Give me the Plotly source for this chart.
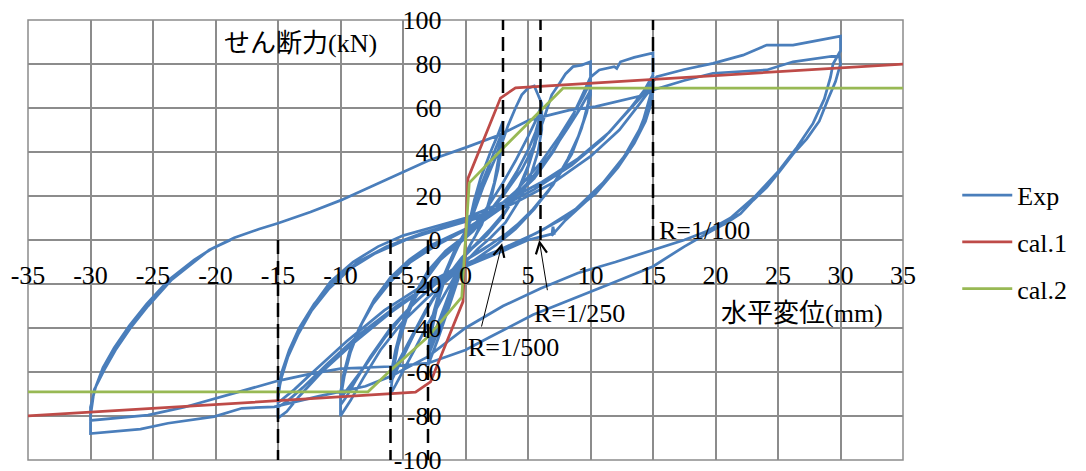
import plotly.graph_objects as go

FONT = "Liberation Serif, Noto Sans CJK JP, serif"

# ---------------- Exp (experimental hysteresis), segment by segment ----------------
seg01 = [(0, 0), (0.3, 8), (0.7, 18), (1.2, 28), (2, 40), (2.6, 48), (3, 54)]
seg02 = [(3, 54), (2.8, 42), (2.3, 26), (1.6, 12), (0.8, 2), (0, -6), (-0.6, -18), (-1.3, -30), (-2.2, -45), (-3, -57)]
seg03 = [(-3, -57), (-2.8, -44), (-2.2, -28), (-1.4, -13), (-0.6, -3), (0, 3), (0.6, 14), (1.4, 27), (2.3, 40), (3, 50)]
seg04 = [(3, 50), (2.7, 36), (2.1, 20), (1.3, 7), (0.4, -2), (-0.4, -12), (-1.2, -25), (-2.1, -40), (-3, -53)]
seg05 = [(-3, -53), (-2.7, -38), (-2, -22), (-1.2, -9), (-0.3, 0), (0.5, 10), (1.4, 24), (2.3, 36), (3, 47)]
seg06 = [(3, 47), (2.6, 32), (1.9, 16), (1, 4), (0.2, -4), (-0.7, -15), (-1.6, -29), (-2.4, -41), (-3, -50)]
seg07 = [(-3, -50), (-2.6, -34), (-1.8, -17), (-0.9, -5), (0, 4), (0.8, 16), (1.8, 30), (2.8, 42), (3.4, 52),
         (4, 60), (4.5, 66), (5, 69), (5.5, 70), (5.8, 66), (6.1, 62)]
seg08 = [(6.1, 62), (6.1, 50), (5.8, 40), (5.2, 29), (4.3, 18), (3.2, 8), (2, 1), (1, -4), (0, -10), (-1, -18),
         (-2, -28), (-3, -38), (-4, -49), (-5, -60), (-5.6, -66), (-6, -70)]
seg09 = [(-6, -70), (-5.8, -60), (-5.4, -48), (-4.7, -35), (-3.8, -23), (-2.6, -12), (-1.3, -4), (0, 2), (1, 9),
         (2, 17), (3, 26), (4, 36), (5, 47), (5.6, 54), (6, 60)]
seg10 = [(6, 60), (5.7, 48), (5.1, 35), (4.3, 24), (3.2, 13), (2, 5), (0.8, -2), (-0.3, -8), (-1.5, -17),
         (-2.7, -28), (-3.8, -39), (-4.9, -52), (-5.5, -59), (-6, -65)]
seg11 = [(-6, -65), (-5.7, -54), (-5.2, -42), (-4.4, -30), (-3.3, -19), (-2, -9), (-0.8, -3), (0.6, 4), (1.8, 12),
         (3, 21), (4.1, 31), (5.1, 42), (5.6, 49), (6, 57)]
seg12 = [(6, 57), (5.6, 44), (4.9, 31), (4, 20), (2.9, 10), (1.7, 2), (0.5, -4), (-0.7, -11), (-2, -21),
         (-3.2, -32), (-4.4, -45), (-5.3, -55), (-6, -62)]
seg13 = [(-6, -62), (-5.6, -50), (-5, -37), (-4.1, -25), (-3, -14), (-1.6, -5), (0, 2), (1.5, 10), (3, 20),
         (4.5, 32), (5.5, 43), (6.2, 54), (6.9, 66), (7.5, 71), (8, 75.5), (8.6, 78.8), (9.3, 79.5), (10, 81)]
seg14 = [(10, 81), (10, 70), (9.8, 62), (9.3, 51), (8.5, 39), (7.1, 26), (5.5, 14), (4, 5), (2.5, -2), (1, -8),
         (-1, -16), (-3, -26), (-5, -37), (-6.8, -50), (-8.2, -63), (-9.2, -73), (-10, -80)]
seg15 = [(-10, -80), (-10, -72), (-9.7, -62), (-9.2, -51), (-8.4, -39), (-7.3, -27), (-6, -17), (-4.5, -9),
         (-3, -3), (-1.5, 1), (0, 5), (2, 12), (4, 22), (6, 35), (7.5, 47), (8.6, 57), (9.4, 65), (10, 72)]
seg16 = [(10, 72), (10, 66), (9.7, 58), (9.1, 48), (8.2, 37), (7, 25), (5.4, 14), (3.8, 5), (2, -2), (0, -9),
         (-2, -18), (-4, -28), (-6, -40), (-7.6, -53), (-8.8, -64), (-9.5, -71), (-10, -75)]
seg17 = [(-10, -75), (-10, -69), (-9.6, -59), (-9.1, -49), (-8.3, -38), (-7.2, -27), (-5.9, -18), (-4.4, -9),
         (-2.8, -3), (-1, 2), (1, 7), (3, 15), (5, 26), (6.8, 39), (8.2, 51), (9.2, 60), (10, 68)]
seg18 = [(10, 68), (9.8, 62), (9.5, 55), (8.9, 45), (7.9, 33), (6.6, 22), (5, 11), (3.3, 3), (1.5, -4),
         (-0.5, -11), (-2.5, -20), (-4.5, -31), (-6.4, -44), (-8, -57), (-9.2, -66), (-10, -72)]
seg19 = [(-10, -72), (-9.8, -62), (-9.3, -51), (-8.5, -40), (-7.4, -29), (-6, -19), (-4.4, -10), (-2.5, -3),
         (-0.5, 3), (1.5, 9), (3.5, 17), (5.5, 28), (7, 40), (8.2, 52), (9.2, 64), (10, 74), (10.7, 77.3),
         (11.5, 78.2), (11.9, 78.8), (12.1, 78), (12.4, 81), (13.5, 83), (14.7, 84.8), (15, 85)]
seg20 = [(15, 85), (15, 76), (14.8, 66), (14.1, 52), (12.7, 38), (10.5, 22), (8, 9), (6.9, 2), (7, 6), (7.1, 3),
         (5, 0), (3, -5), (0, -12), (-3, -21), (-6, -33), (-9, -47), (-11.5, -60), (-13.3, -71), (-14.3, -78),
         (-15, -81)]
seg21 = [(-15, -81), (-15, -72), (-14.8, -64), (-14.2, -53), (-13.4, -42), (-12.2, -30), (-10.8, -19), (-9, -10),
         (-7, -3), (-5, 2), (-2.5, 6), (0, 10), (3, 17), (6, 26), (9, 37), (11.5, 49), (13.2, 60), (14.3, 68),
         (15, 75)]
seg22 = [(15, 75), (15, 69), (14.6, 60), (13.9, 50), (12.7, 38), (11, 26), (8.8, 14), (6.3, 5), (3.5, -3),
         (0.5, -10), (-2.5, -19), (-5.5, -30), (-8.5, -43), (-11, -56), (-13, -67), (-14.2, -73), (-15, -76)]
seg23 = [(-15, -76), (-15, -70), (-14.7, -62), (-14.2, -53), (-13.4, -43), (-12.3, -32), (-10.9, -22),
         (-9.2, -13), (-7.2, -6), (-4.8, 0), (-2, 5), (1, 10), (4, 17), (7, 26), (10, 38), (12.3, 50),
         (13.8, 61), (15, 70)]
seg24 = [(15, 70), (14.9, 63), (14.4, 54), (13.5, 44), (12.2, 33), (10.4, 21), (8.2, 11), (5.6, 3), (2.5, -5),
         (-0.5, -12), (-3.5, -21), (-6.5, -32), (-9.5, -46), (-12, -59), (-13.7, -68), (-15, -74)]
seg25 = [(-15, -74), (-15, -68), (-14.7, -60), (-14.1, -50), (-13.3, -40), (-12.1, -29), (-10.6, -19),
         (-8.6, -10), (-6.3, -3), (-3.5, 3), (-0.5, 8), (2.5, 14), (5.5, 23), (8.5, 34), (11, 46), (12.8, 57),
         (14.2, 66), (15.3, 74.2), (17.5, 77.5), (19.8, 80.3), (22.2, 84), (24.1, 88.6), (26.2, 88.6),
         (28, 90.5), (30, 92.7)]
seg26 = [(30, 92.7), (30, 86), (29.4, 80), (29.2, 74), (28.7, 64), (27.8, 53), (26.5, 42), (25, 31), (23.2, 20),
         (21.2, 10), (19.3, 4), (17.5, 0), (15, -4.5), (12, -10), (9, -15), (6, -22), (3, -30), (0, -40),
         (-3, -53), (-6, -62), (-8, -66.5), (-11.7, -71), (-15.3, -75.8), (-17.9, -76.5), (-20.1, -80.3),
         (-23.8, -83.3), (-26, -86), (-28, -87), (-30, -88)]
seg27 = [(-30, -88), (-30, -80), (-29.7, -68), (-28.9, -59), (-28, -50), (-26.8, -40), (-25.4, -30),
         (-23.5, -18), (-21.5, -9), (-20.5, -4.5), (-18.5, 1), (-16.5, 5), (-15, 7.6), (-12.4, 12.7), (-10, 18),
         (-6.5, 27), (-3, 36), (0, 42), (2.7, 47.7), (5.1, 54.5), (8.3, 59), (10.4, 60.6), (14.4, 66),
         (15, 68.2), (17.5, 72.5), (19.8, 75.8), (22, 76.5), (24.1, 77.3), (26.2, 81), (28, 82.5), (29.9, 84)]
seg28 = [(29.9, 84), (30, 80), (29.6, 72), (29, 64), (28.3, 54), (27.3, 46), (26.2, 39), (25.1, 31), (24.1, 24),
         (23, 18), (22, 12), (20.8, 7.5), (19.8, 4.5), (17.5, -3), (15, -12), (12, -19), (9, -25.8), (5.4, -34),
         (2, -44), (0, -50), (-3, -56), (-6, -57.5), (-10, -58.5), (-12.5, -61), (-15, -64), (-17.5, -68),
         (-20, -72), (-22.5, -76), (-25.4, -79.6), (-28, -81), (-30, -82)]
seg29 = [(-30, -82), (-30, -76), (-29.6, -67), (-29, -58), (-28.1, -49), (-26.9, -39), (-25.5, -29),
         (-23.7, -18), (-21.7, -9), (-20.3, -4), (-18.8, 0)]

exp_segments = [seg01, seg02, seg03, seg04, seg05, seg06, seg07, seg08, seg09, seg10,
                seg11, seg12, seg13, seg14, seg15, seg16, seg17, seg18, seg19, seg20,
                seg21, seg22, seg23, seg24, seg25, seg26, seg27, seg28, seg29]
exp_x = [p[0] for seg in exp_segments for p in seg]
exp_y = [p[1] for seg in exp_segments for p in seg]

# ---------------- calculated skeleton curves ----------------
cal1_x = [-35, -4, -2.8, -1.5, -0.2, 0.2, 1.5, 2.8, 4, 35]
cal1_y = [-80, -69.2, -64.5, -46, -28, 28, 46, 64.5, 69.2, 80]
cal2_x = [-35, -7.8, -6.2, -3, -0.3, 0.3, 3, 5.8, 7.8, 35]
cal2_y = [-69, -69, -60.3, -44, -26, 26, 41.7, 57.6, 69, 69]

# ---------------- drift-angle reference lines ----------------
drift_x = [3, 6, 15, -3, -6, -15]
drift_y_end = [100, 100, 100, -100, -100, -100]

# ---------------- ticks ----------------
x_tick_vals = [-35, -30, -25, -20, -15, -10, -5, 0, 5, 10, 15, 20, 25, 30, 35]
x_tick_text = ["-35", "-30", "-25", "-20", "-15", "-10", "-5", "0", "5", "10", "15", "20", "25", "30", "35"]
y_tick_vals = [-100, -80, -60, -40, -20, 0, 20, 40, 60, 80, 100]
y_tick_text = ["-100", "-80", "-60", "-40", "-20", "0", "20", "40", "60", "80", "100"]

# ---------------- labels ----------------
label_text = ["R=1/100", "R=1/250", "R=1/500"]
label_x = [15.3, 5.3, 0.05]
label_y = [4.5, -33.2, -49]
arrow_tip_x = [2.93, 5.9]
arrow_tip_y = [-1.5, 0]
arrow_tail_x = [1.25, 6.57]
arrow_tail_y = [-40, -23.5]
y_title, y_title_x, y_title_y = "せん断力(kN)", -13.2, 89.5
x_title, x_title_x, x_title_y = "水平変位(mm)", 26.95, -33.3

fig = go.Figure()
fig.add_trace(go.Scatter(x=exp_x, y=exp_y, mode="lines", name="Exp", legendgroup="g1",
                         line=dict(color="#4A7EBB", width=2.75)))
fig.add_trace(go.Scatter(x=cal1_x, y=cal1_y, mode="lines", name="cal.1", legendgroup="g2",
                         line=dict(color="#BE4B48", width=2.75)))
fig.add_trace(go.Scatter(x=cal2_x, y=cal2_y, mode="lines", name="cal.2", legendgroup="g3",
                         line=dict(color="#98B954", width=2.75)))

dx, dy = [], []
for xv, ye in zip(drift_x, drift_y_end):
    dx += [xv, xv, None]
    dy += [0, ye, None]
fig.add_trace(go.Scatter(x=dx, y=dy, mode="lines", showlegend=False, hoverinfo="skip",
                         line=dict(color="black", width=2.5, dash="14px,7px")))

annotations = []
for t, xv, yv in zip(label_text, label_x, label_y):
    annotations.append(dict(x=xv, y=yv, xref="x", yref="y", text=t, showarrow=False,
                            xanchor="left", yanchor="middle",
                            font=dict(family=FONT, size=26, color="black")))
for tx, ty, ax, ay in zip(arrow_tip_x, arrow_tip_y, arrow_tail_x, arrow_tail_y):
    annotations.append(dict(x=tx, y=ty, xref="x", yref="y", ax=ax, ay=ay, axref="x", ayref="y",
                            text="", showarrow=True, arrowhead=5, arrowsize=2.2, arrowwidth=1,
                            arrowcolor="black"))
annotations.append(dict(x=y_title_x, y=y_title_y, xref="x", yref="y", text=y_title, showarrow=False,
                        font=dict(family=FONT, size=26, color="black")))
annotations.append(dict(x=x_title_x, y=x_title_y, xref="x", yref="y", text=x_title, showarrow=False,
                        font=dict(family=FONT, size=26, color="black")))

axis_common = dict(showgrid=True, gridcolor="#8C8C8C", gridwidth=1.5, zeroline=False, showline=False,
                   ticks="", anchor="free", position=0.5, automargin=False, ticklabeloverflow="allow",
                   tickfont=dict(family=FONT, size=26, color="black"))

fig.update_layout(
    width=1086, height=471,
    margin=dict(l=28, r=183, t=20, b=11, autoexpand=False),
    paper_bgcolor="white", plot_bgcolor="white",
    xaxis=dict(range=[-35, 35], tickvals=x_tick_vals, ticktext=x_tick_text, ticklabelstandoff=17,
               **axis_common),
    yaxis=dict(range=[-100, 100], tickvals=y_tick_vals, ticktext=y_tick_text, ticklabelstandoff=24,
               **axis_common),
    legend=dict(x=1.062, y=0.495, xanchor="left", yanchor="middle", tracegroupgap=10,
                font=dict(family=FONT, size=26, color="black"), itemwidth=50,
                bgcolor="rgba(0,0,0,0)"),
    annotations=annotations,
    shapes=[dict(type="rect", xref="paper", yref="paper", x0=0, x1=1, y0=0, y1=1,
                 line=dict(color="#8C8C8C", width=1.5), layer="below")],
    showlegend=True,
)

fig.write_html("out.html", config={"displayModeBar": False},
               post_script="document.body.style.margin='0px';document.body.style.overflow='hidden';")
